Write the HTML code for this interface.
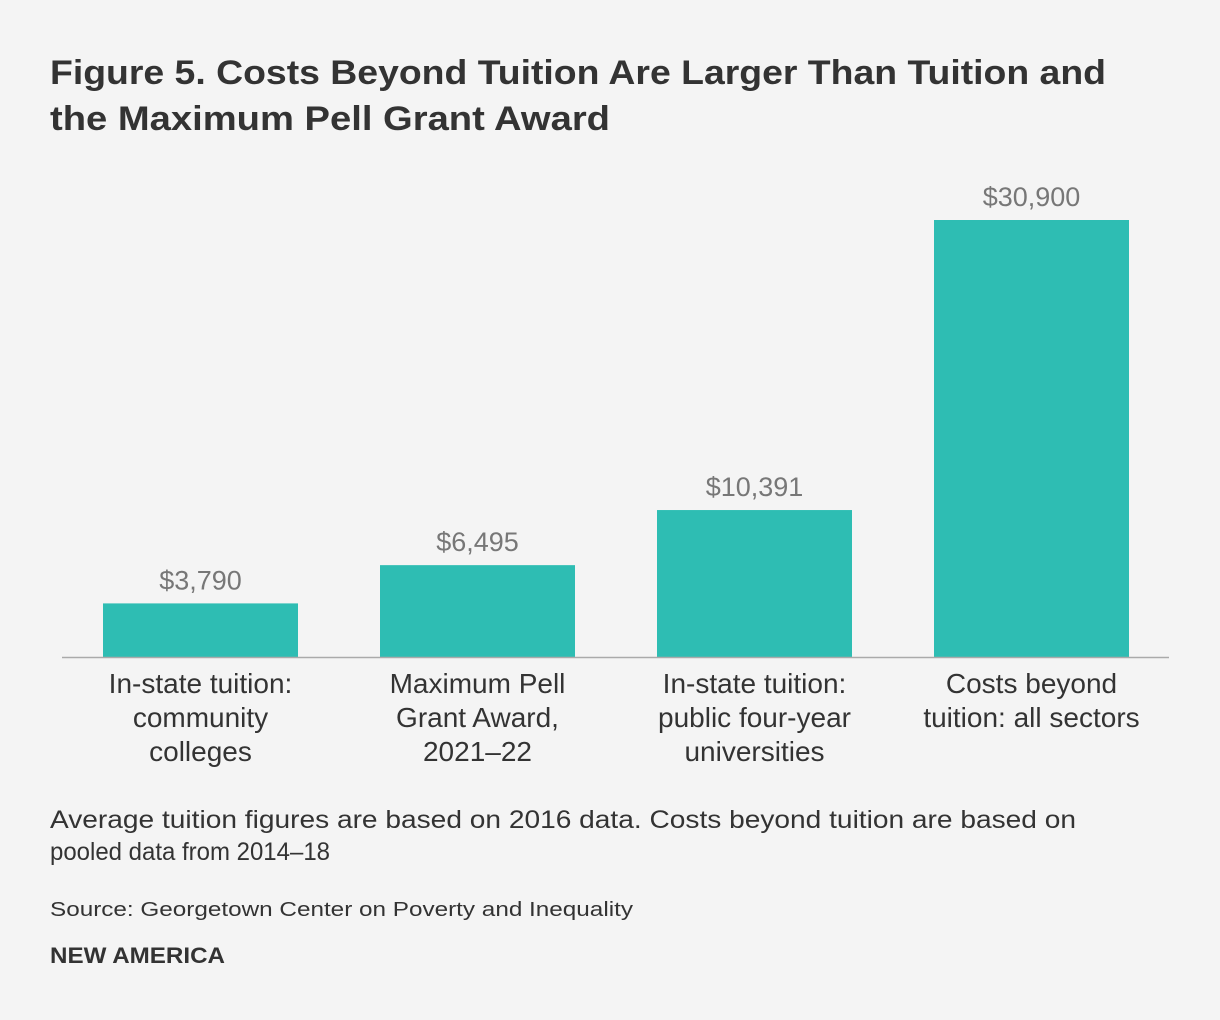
<!DOCTYPE html>
<html><head><meta charset="utf-8"><style>
body{margin:0;width:1220px;height:1020px;background:#f4f4f4;font-family:"Liberation Sans",sans-serif;overflow:hidden}
svg{position:absolute;left:0;top:0}
</style></head><body>
<svg width="1220" height="1020">
<text x="50" y="84" font-size="34" font-weight="bold" fill="#333" textLength="1056" lengthAdjust="spacingAndGlyphs">Figure 5. Costs Beyond Tuition Are Larger Than Tuition and</text>
<text x="50" y="130" font-size="34" font-weight="bold" fill="#333" textLength="560" lengthAdjust="spacingAndGlyphs">the Maximum Pell Grant Award</text>
<g id="bars"></g>
<line x1="62" x2="1169" y1="657.5" y2="657.5" stroke="#aaa" stroke-width="1.5"/>
<text x="50" y="828" font-size="25" fill="#333" textLength="1026" lengthAdjust="spacingAndGlyphs">Average tuition figures are based on 2016 data. Costs beyond tuition are based on</text>
<text x="50" y="860" font-size="25" fill="#333" textLength="280" lengthAdjust="spacingAndGlyphs">pooled data from 2014–18</text>
<text x="50" y="916" font-size="20" fill="#333" textLength="583" lengthAdjust="spacingAndGlyphs">Source: Georgetown Center on Poverty and Inequality</text>
<text x="50" y="963" font-size="22" font-weight="bold" fill="#333" textLength="175" lengthAdjust="spacingAndGlyphs">NEW AMERICA</text>
</svg>
<script>
const categories=[["In-state tuition:","community","colleges"],["Maximum Pell","Grant Award,","2021–22"],["In-state tuition:","public four-year","universities"],["Costs beyond","tuition: all sectors"]];
const values=[3790,6495,10391,30900];
const valueLabels=["$3,790","$6,495","$10,391","$30,900"];
const base=657,scale=437/30900,x0=103,step=277,bw=195;
const y=v=>base-v*scale, x=i=>x0+i*step;
const g=document.getElementById('bars'),NS="http://www.w3.org/2000/svg";
values.forEach((v,i)=>{
 const r=document.createElementNS(NS,'rect');
 r.setAttribute('x',x(i));r.setAttribute('y',y(v));r.setAttribute('width',bw);r.setAttribute('height',base-y(v));r.setAttribute('fill','#2ebdb3');
 
 
 g.appendChild(r);
 const t=document.createElementNS(NS,'text');
 t.setAttribute('x',x(i)+bw/2);t.setAttribute('y',y(v)-14);t.setAttribute('text-anchor','middle');t.setAttribute('font-size','27');t.setAttribute('fill','#777');
 t.textContent=valueLabels[i];
 
 
 g.appendChild(t);
 categories[i].forEach((l,j)=>{
  const c=document.createElementNS(NS,'text');
  c.setAttribute('x',x(i)+bw/2);c.setAttribute('y',693+j*34);c.setAttribute('text-anchor','middle');c.setAttribute('font-size','28');c.setAttribute('fill','#333');
  c.textContent=l;
  
  
  g.appendChild(c);
 });
});
</script>
</body></html>
